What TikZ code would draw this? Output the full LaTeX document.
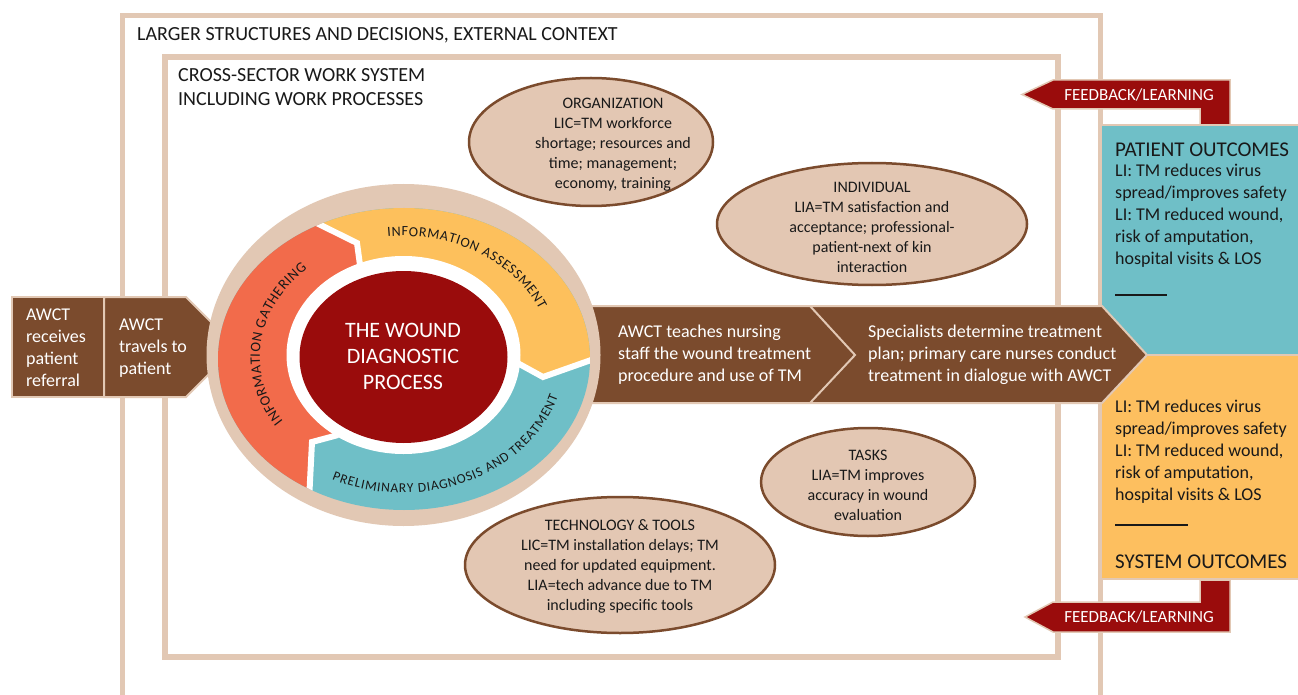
\documentclass[tikz,border=0pt]{standalone}
\usepackage{fontspec}
\setmainfont{Carlito}
\usetikzlibrary{calc,decorations.text}
\definecolor{beige}{RGB}{226,200,180}
\definecolor{brownc}{RGB}{123,75,45}
\definecolor{darkred}{RGB}{154,12,12}
\definecolor{ringred}{RGB}{242,107,75}
\definecolor{ringyellow}{RGB}{253,192,92}
\definecolor{ringteal}{RGB}{111,191,199}
\definecolor{orangebox}{RGB}{253,191,95}
\definecolor{ovalfill}{RGB}{227,199,179}
\definecolor{txt}{RGB}{25,25,25}
\tikzset{
  frameline/.style={draw=beige},
  brownshape/.style={fill=brownc, draw=beige, line width=2pt, line join=miter},
  fbshape/.style={fill=darkred, draw=beige, line width=1.5pt},
  oval/.style={fill=ovalfill, draw=brownc, line width=2.5pt},
  wtext/.style={text=white, inner sep=0pt, font=\fontsize{18}{22}\selectfont, align=left},
  fbtext/.style={text=white, inner sep=0pt, font=\fontsize{17}{20}\selectfont},
  ovaltext/.style={text=txt, inner sep=0pt, font=\fontsize{16}{20}\selectfont, align=center},
  outtext/.style={text=txt, inner sep=0pt, font=\fontsize{18}{22}\selectfont, align=left},
  headtext/.style={text=txt, inner sep=0pt, font=\fontsize{20}{24}\selectfont, align=left},
  ringlabel/.style={decorate, decoration={text along path, text align=fit to path, text color=txt}},
  separator/.style={white, line width=6pt, line join=miter},
}
\begin{document}
\begin{tikzpicture}[x=1pt,y=1pt]
\useasboundingbox (0,0) rectangle (1298,-695);
\fill[white] (0,0) rectangle (1298,-695);

% frames
\draw[frameline, line width=5pt] (122,-705) -- (122,-15.5) -- (1100,-15.5) -- (1100,-705);
\draw[frameline, line width=6pt] (165,-57) rectangle (1058,-657);
\node[headtext, anchor=base west] (larger) at (137,-41) {LARGER STRUCTURES AND DECISIONS, EXTERNAL CONTEXT};
\node[headtext, anchor=base west] (cross) at (178,-82) {CROSS-SECTOR WORK SYSTEM};
\node[headtext, anchor=base west] (incl) at (178,-106) {INCLUDING WORK PROCESSES};

% outcome boxes
\fill[ringteal] (1102,-125) rectangle (1300,-355);
\fill[orangebox] (1102,-355) rectangle (1300,-578);
\draw[beige, line width=2pt] (1101,-125) -- (1300,-125);
\draw[beige, line width=2pt] (1101,-355) -- (1300,-355);
\draw[beige, line width=2pt] (1101,-579) -- (1300,-579);
\node[text=txt, inner sep=0pt, font=\fontsize{21}{24}\selectfont, anchor=west] (patout) at (1115,-150) {PATIENT OUTCOMES};
\node[outtext, anchor=west] (patbody) at (1115,-216) {LI: TM reduces virus\\spread/improves safety\\LI: TM reduced wound,\\risk of amputation,\\hospital visits \& LOS};
\draw[txt, line width=1.3pt] (1115,-295) -- (1167,-295);
\node[outtext, anchor=west] (sysbody) at (1115,-452) {LI: TM reduces virus\\spread/improves safety\\LI: TM reduced wound,\\risk of amputation,\\hospital visits \& LOS};
\draw[txt, line width=1.3pt] (1115,-525) -- (1188,-525);
\node[text=txt, inner sep=0pt, font=\fontsize{21}{24}\selectfont, anchor=west] (sysout) at (1115,-562) {SYSTEM OUTCOMES};

% feedback arrows
\filldraw[fbshape] (1230,-80) -- (1053,-80) -- (1022,-94.5) -- (1053,-109) -- (1200,-109) -- (1200,-125) -- (1230,-125) -- cycle;
\node[fbtext] (fb1) at (1139,-94.5) {FEEDBACK/LEARNING};
\filldraw[fbshape] (1230,-632) -- (1053,-632) -- (1025,-617) -- (1053,-602) -- (1200,-602) -- (1200,-580) -- (1230,-580) -- cycle;
\node[fbtext] (fb2) at (1139,-617) {FEEDBACK/LEARNING};

% left arrows
\filldraw[brownshape] (12,-297) rectangle (104,-397);
\filldraw[brownshape] (104,-297) -- (186,-297) -- (236,-347) -- (186,-397) -- (104,-397) -- cycle;
\node[wtext, anchor=west] (referral) at (26,-348) {AWCT\\receives\\patient\\referral};
\node[wtext, anchor=west] (travels) at (119,-348) {AWCT\\travels to\\patient};

% big arrow
\filldraw[brownshape] (560,-306) -- (1102,-306) -- (1147,-355) -- (1102,-403) -- (560,-403) -- cycle;
\draw[beige, line width=2pt] (810,-306) -- (855,-355) -- (810,-403);
\node[wtext, anchor=west] (teach) at (618,-355) {AWCT teaches nursing\\staff the wound treatment\\procedure and use of TM};
\node[wtext, anchor=west] (spec) at (868,-355) {Specialists determine treatment\\plan; primary care nurses conduct\\treatment in dialogue with AWCT};

% diagnostic circle
\fill[beige] (403.5,-355) ellipse[x radius=197pt, y radius=171pt];
\begin{scope}
  \clip (404,-359) ellipse[x radius=186pt, y radius=151pt];
  \fill[ringteal] (150,-150) rectangle (660,-570);
  \fill[ringred] (404,-360) -- (360,-258) -- (357,-243) -- (275,-203) -- (275,-150) -- (150,-150)
     -- (150,-570) -- (306,-570) -- (307,-535) -- (312,-442) -- (333,-437) -- cycle;
  \fill[ringyellow] (404,-360) -- (360,-258) -- (357,-243) -- (275,-203) -- (275,-150) -- (660,-150)
     -- (660,-340) -- (640,-343) -- (543,-377) -- (518,-363) -- cycle;
  \draw[separator] (272,-201) -- (357,-243) -- (360,-265);
  \draw[separator] (645,-341) -- (543,-377) -- (512,-360);
  \draw[separator] (307,-540) -- (312,-442) -- (338,-435);
\end{scope}
\fill[white] (403.5,-355) ellipse[x radius=117pt, y radius=99pt];
\fill[darkred] (403.5,-357) ellipse[x radius=104pt, y radius=86pt];
\node[text=white, inner sep=0pt, font=\fontsize{22}{26}\selectfont, align=center] (wound) at (403,-356) {THE WOUND\\DIAGNOSTIC\\PROCESS};
\path[ringlabel, decoration={text={|\fontsize{14.5}{16}\selectfont|INFORMATION GATHERING}}]
  ($(403,-357)+(213:143 and 118)$) arc[start angle=213, end angle=132, x radius=143pt, y radius=118pt];
\path[ringlabel, decoration={text={|\fontsize{14}{16}\selectfont|INFORMATION ASSESSMENT}}]
  ($(403,-357)+(96:148 and 121)$) arc[start angle=96, end angle=23, x radius=148pt, y radius=121pt];
\path[ringlabel, decoration={text={|\fontsize{13.5}{16}\selectfont|PRELIMINARY DIAGNOSIS AND TREATMENT}}]
  ($(403,-357)+(244:162 and 136)$) arc[start angle=244, end angle=343, x radius=162pt, y radius=136pt];

% factor ovals
\filldraw[oval] (591,-142) ellipse[x radius=122pt, y radius=64pt];
\node[ovaltext] (org) at (613,-144.5) {ORGANIZATION\\LIC=TM workforce\\shortage; resources and\\time; management;\\economy, training};
\filldraw[oval] (872,-224) ellipse[x radius=155pt, y radius=61pt];
\node[ovaltext] (indiv) at (872,-227) {INDIVIDUAL\\LIA=TM satisfaction and\\acceptance; professional-\\patient-next of kin\\interaction};
\filldraw[oval] (868,-482) ellipse[x radius=107pt, y radius=54pt];
\node[ovaltext] (tasks) at (868,-485) {TASKS\\LIA=TM improves\\accuracy in wound\\evaluation};
\filldraw[oval] (620,-565) ellipse[x radius=155pt, y radius=68pt];
\node[ovaltext] (tech) at (620,-566) {TECHNOLOGY \& TOOLS\\LIC=TM installation delays; TM\\need for updated equipment.\\LIA=tech advance due to TM\\including specific tools};
\end{tikzpicture}
\end{document}
